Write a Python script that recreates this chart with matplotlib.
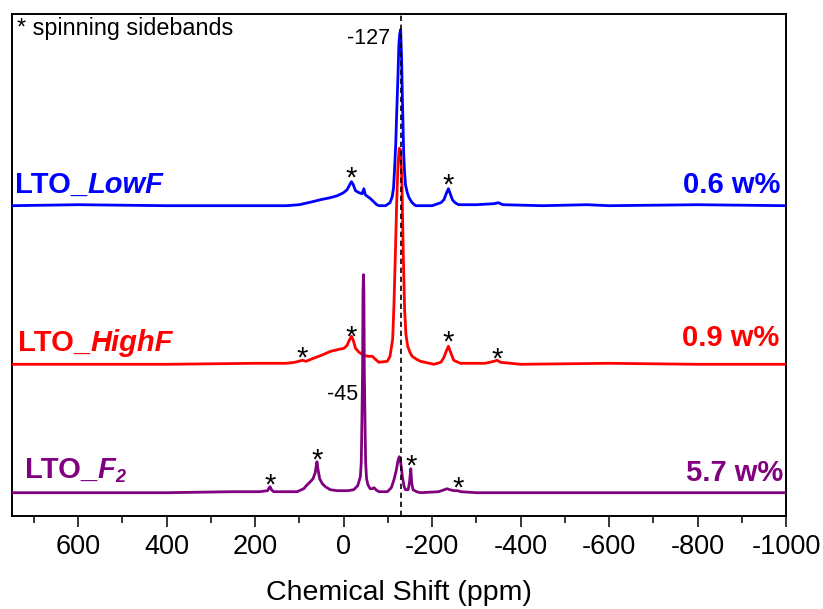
import matplotlib
matplotlib.use('Agg')
import matplotlib.pyplot as plt
from matplotlib.ticker import MultipleLocator

plt.rcParams['font.family'] = ['Liberation Sans', 'DejaVu Sans']

# ---------------- data ----------------
# chemical shift (ppm) and intensity (arbitrary units) for each trace
lowf_ppm = [750, 600, 400, 200, 130, 100, 70, 52, 30, 14, 0, -8, -14, -18, -22, -27, -35, -42,
            -46, -49, -55, -61, -68, -75, -80, -95, -105, -110, -113, -115, -118, -120, -123,
            -125, -127, -129, -131, -133, -136, -138, -140, -144, -148, -155, -163, -200, -220,
            -227, -232, -237, -242, -246, -252, -260, -300, -340, -350, -360, -450, -550, -600,
            -800, -1000]
lowf_int = [0, 1, 0, 0, 0, 1, 4, 6, 8, 10, 13, 16, 21, 24, 21, 15, 13, 12,
            17, 11, 9, 7, 4, 1, 0, 0, 3, 9, 18, 34, 62, 91, 130,
            161, 172, 176, 150, 108, 51, 33, 21, 13, 8, 3, 0, 0, 3,
            6, 12, 17, 11, 6, 3, 1, 1, 2, 3, 1, 0, 1, 0,
            1, 0]

highf_ppm = [750, 400, 200, 130, 110, 93, 85, 68, 50, 29, 10, -1, -8, -13, -18, -22, -27, -35,
             -46, -55, -65, -72, -80, -99, -105, -111, -114, -117, -120, -123, -126, -129,
             -132, -135, -138, -141, -145, -150, -155, -165, -174, -204, -220, -227, -232,
             -237, -242, -249, -264, -320, -340, -347, -355, -400, -600, -800, -1000]
highf_int = [0, 0, 1, 1, 2, 4, 3, 6, 9, 13, 15, 16, 19, 24, 28, 24, 16, 12,
             9, 8, 8, 5, 2, 3, 8, 25, 60, 108, 160, 200, 216, 214,
             180, 110, 55, 30, 18, 12, 8, 5, 3, 0, 2, 7, 13,
             18, 12, 4, 1, 1, 3, 4, 2, 0, 1, 0, 0]

f2_ppm = [750, 400, 250, 190, 172, 168, 166, 163, 158, 120, 105, 90, 82, 75, 69, 64, 61, 60,
          58, 54, 48, 41, 30, 14, -10, -23, -32, -38, -40, -41, -43, -44, -45, -46, -47, -49,
          -50, -52, -55, -60, -65, -69, -73, -80, -99, -108, -114, -119, -123, -126, -128,
          -131, -133, -137, -140, -146, -149, -152, -154, -157, -165, -174, -215, -228, -234,
          -240, -250, -258, -265, -300, -600, -1000]
f2_int = [0, 0, 1, 1, 2, 5, 6, 3, 1, 1, 1, 4, 8, 11, 14, 20, 29, 31,
          24, 14, 9, 6, 3, 2, 2, 3, 7, 16, 30, 56, 120, 200, 218, 200, 120, 56,
          30, 14, 8, 4, 4, 5, 3, 1, 1, 5, 13, 22, 32, 36, 34,
          24, 16, 6, 3, 3, 10, 24, 10, 3, 1, 0, 1, 3, 4,
          3, 2, 2, 1, 0, 0, 0]

names = ['LowF', 'HighF', 'F']
contents = ['0.6 w%', '0.9 w%', '5.7 w%']
colors = ['#0000FF', '#FF0000', '#800080']
offsets = [310.3, 151.7, 23.3]

ref_shift = -129          # dashed reference line
peak_labels = ['-127', '-45']
xticks = [600, 400, 200, 0, -200, -400, -600, -800, -1000]

# sideband asterisk positions (ppm, height above trace baseline)
lowf_sb = [(-18, 36), (-237, 29)]
highf_sb = [(93, 15), (-18, 36), (-237, 31), (-347, 14)]
f2_sb = [(166, 16), (60, 41), (-152, 35), (-258, 13)]

# ---------------- figure ----------------
W, H = 823, 609
fig = plt.figure(figsize=(W / 100, H / 100), dpi=100)
ax_l, ax_r, ax_t, ax_b = 11.7, 786.0, 14.0, 516.0
ax = fig.add_axes([ax_l / W, (H - ax_b) / H, (ax_r - ax_l) / W, (ax_b - ax_t) / H])
ax.set_xlim(750, -1000)
ax.set_ylim(0, ax_b - ax_t)


def fx(xpx):
    return (xpx - ax_l) / (ax_r - ax_l)


def fy(ypx):
    return (ax_b - ypx) / (ax_b - ax_t)


lw = 2.0
for ppm, inten, c, off in [(lowf_ppm, lowf_int, colors[0], offsets[0]),
                           (highf_ppm, highf_int, colors[1], offsets[1]),
                           (f2_ppm, f2_int, colors[2], offsets[2])]:
    ax.plot(ppm, [v + off for v in inten], color=c, lw=lw, solid_joinstyle='round', zorder=3)

ax.axvline(ref_shift, color='black', lw=1.2, ls=(0, (3.2, 2.2)), zorder=4)

# asterisks
ast_fs = 21
for sb, off in [(lowf_sb, offsets[0]), (highf_sb, offsets[1]), (f2_sb, offsets[2])]:
    for p, h in sb:
        ax.text(p, off + h - 0.575 * ast_fs * 100 / 72, '*', fontsize=ast_fs, ha='center',
                va='baseline', color='black', zorder=5)

# texts
ax.text(fx(17), fy(29), '* spinning sidebands', transform=ax.transAxes, fontsize=16.8,
        ha='left', va='center')
ax.text(fx(390), fy(38), peak_labels[0], transform=ax.transAxes, fontsize=15.5, ha='right', va='center')
ax.text(fx(358), fy(395), peak_labels[1], transform=ax.transAxes, fontsize=15.5, ha='right', va='center')

label_fs = 21
left_pos = [(15, 185), (18, 343), (25, 470)]
right_pos = [(780, 185), (779, 338), (783, 473)]
for i in range(3):
    x0, y0 = left_pos[i]
    t1 = ax.text(fx(x0), fy(y0), 'LTO_', transform=ax.transAxes, fontsize=label_fs,
                 fontweight='bold', color=colors[i], ha='left', va='center')
    t2 = ax.annotate(names[i], xy=(1, 0), xycoords=t1, fontsize=label_fs, fontweight='bold',
                     fontstyle='italic', color=colors[i], ha='left', va='bottom')
    if names[i] == 'F':
        ax.annotate('2', xy=(1, 0), xycoords=t2, xytext=(0.5, -1.5), textcoords='offset points',
                    fontsize=13, fontweight='bold', fontstyle='italic', color=colors[i],
                    ha='left', va='bottom')
    xr, yr = right_pos[i]
    ax.text(fx(xr), fy(yr), contents[i], transform=ax.transAxes, fontsize=label_fs,
            fontweight='bold', color=colors[i], ha='right', va='center')

# axes styling
ax.set_xticks(xticks)
ax.set_xticklabels([str(v) for v in xticks])
ax.xaxis.set_minor_locator(MultipleLocator(100))
ax.tick_params(axis='x', which='major', direction='out', length=8, width=1.1, labelsize=19.5, pad=5)
ax.tick_params(axis='x', which='minor', direction='out', length=4.8, width=1.1)
ax.set_yticks([])
for s in ax.spines.values():
    s.set_linewidth(1.4)
ax.set_xlabel('Chemical Shift (ppm)', fontsize=20.5, labelpad=14)

fig.savefig('out.png', dpi=100)
